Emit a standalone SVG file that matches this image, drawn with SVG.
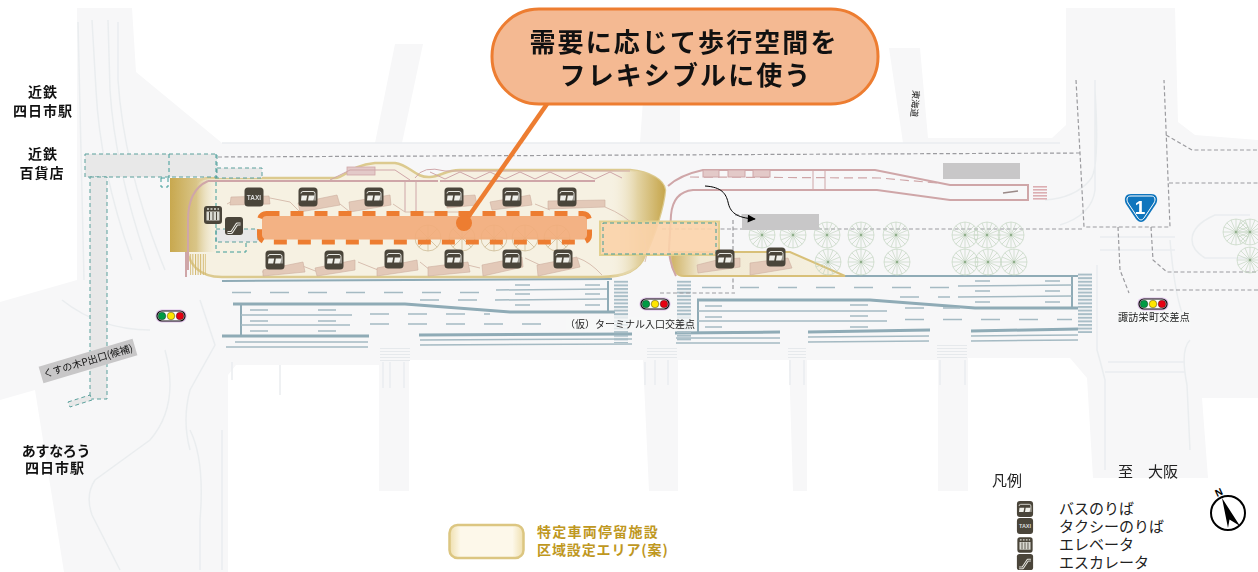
<svg xmlns="http://www.w3.org/2000/svg" xmlns:xlink="http://www.w3.org/1999/xlink" width="1258" height="572" viewBox="0 0 1258 572">
<style>
text{font-family:"Noto Sans CJK JP","Noto Sans",sans-serif;fill:#1a1a1a}
.bold{font-weight:700;fill:#111}
.road{fill:#f7f7f8}
.faint{fill:none;stroke:#eaedef;stroke-width:1.5}
.edge{fill:none;stroke:#8fabb6;stroke-width:2}
.thick{fill:none;stroke:#8fabb6;stroke-width:3}
.lane{fill:none;stroke:#a5bac3;stroke-width:1.5}
.dash{fill:none;stroke:#a5bac3;stroke-width:1.5;stroke-dasharray:19 19}
.gdash{fill:none;stroke:#9b9b9f;stroke-width:1.2;stroke-dasharray:4 2.5}
.teal{fill:#e8e8e8;stroke:#5aa09c;stroke-width:1;stroke-dasharray:4 3}
.tealo{fill:none;stroke:#3f9c98;stroke-width:1;stroke-dasharray:4 3}
.pink{fill:none;stroke:#cfa6a8;stroke-width:2}
.pink1{fill:none;stroke:#cfa6a8;stroke-width:1}
.shelter{fill:#e3c9b8;stroke:#cdaea0;stroke-width:.6}
.trail{fill:none;stroke:#d8bfb0;stroke-width:1}
.ic{fill:#4a453a}
.icl{fill:none;stroke:#e8e8e2;stroke-width:1}
.icf{fill:#f0f0ea}
.icon-t{font-family:"Liberation Sans",sans-serif;font-size:6.5px;font-weight:700;fill:#ddd;text-anchor:middle}
.lbl{font-size:14px;text-anchor:middle;font-weight:700;fill:#111;letter-spacing:1px}
.leg{font-size:15px;fill:#222}
.small{font-size:10px;fill:#222}
.gold{font-size:14px;font-weight:700;fill:#bf981f;letter-spacing:1.25px}
</style>
<defs>
<filter id="soft" x="-5%" y="-5%" width="110%" height="110%"><feGaussianBlur stdDeviation=".45"/></filter>
<filter id="soft2" x="-20%" y="-40%" width="140%" height="180%"><feGaussianBlur stdDeviation="1"/></filter>
<linearGradient id="gL" x1="0" x2="1" y1="0" y2="0"><stop offset="0" stop-color="#c8a84e"/><stop offset=".55" stop-color="#d9c588"/><stop offset="1" stop-color="#f3eddb" stop-opacity="0"/></linearGradient>
<linearGradient id="gR" x1="0" x2="1" y1="0" y2="0"><stop offset="0" stop-color="#f6f0df" stop-opacity="0"/><stop offset=".5" stop-color="#e3d3a3"/><stop offset="1" stop-color="#c6a64c"/></linearGradient>
<linearGradient id="gB" x1="0" x2="1" y1="0" y2="0"><stop offset="0" stop-color="#cfb264"/><stop offset=".17" stop-color="#f1e9d2"/><stop offset="1" stop-color="#f6f1e2"/></linearGradient>
<linearGradient id="gS" x1="0" x2="1" y1="0" y2="0"><stop offset="0" stop-color="#efdfae"/><stop offset=".15" stop-color="#fdf8ea"/><stop offset=".85" stop-color="#fdf8ea"/><stop offset="1" stop-color="#efdfae"/></linearGradient>
<pattern id="cross" width="8" height="3.6" patternUnits="userSpaceOnUse"><rect width="8" height="2" fill="#a9bec7"/></pattern>
<pattern id="crossF" width="8" height="3" patternUnits="userSpaceOnUse"><rect width="8" height="1" fill="#e6e9ec"/></pattern>
<pattern id="crossP" width="8" height="3" patternUnits="userSpaceOnUse"><rect width="8" height="1.6" fill="#dcaeb2"/></pattern>
<pattern id="crossV" width="2.6" height="8" patternUnits="userSpaceOnUse"><rect width="1" height="8" fill="#d2b66a"/></pattern>
<marker id="ah" viewBox="0 0 10 10" refX="9" refY="5" markerWidth="9" markerHeight="8" markerUnits="userSpaceOnUse" orient="auto"><path d="M0 0L10 5L0 10Z" fill="#000"/></marker>
<g id="tree" fill="none" stroke="#bcd0b8" stroke-width=".6">
<circle r="13"/><path d="M0-13V13M-13 0H13M-9.2-9.2L9.2 9.2M-9.2 9.2L9.2-9.2M-5-12L5 12M5-12L-5 12M-12-5L12 5M-12 5L12-5"/><circle r="1.2" fill="#8fae8a" stroke="none"/>
</g>
<g id="tree2" fill="none" stroke="#c8b48c" stroke-width=".7">
<circle r="13"/><path d="M0-13V13M-13 0H13M-9.2-9.2L9.2 9.2M-9.2 9.2L9.2-9.2"/>
</g>
<g id="bus"><rect x="-9.500" y="-9.500" width="19" height="19" rx="3.500" class="ic"/><path d="M-7-3.500Q-7-5.500-5-5.500H5Q7-5.500 7-3.500V3.500" class="icl"/><path d="M-6.500-1.500H-.8L-1.800 3.500H-7ZM.8-1.500H6.500L5.500 3.500H0Z" class="icf"/></g>
<g id="taxi"><rect x="-9.500" y="-9.500" width="19" height="19" rx="3.500" class="ic"/><text y="2.500" class="icon-t">TAXI</text></g>
<g id="elev"><rect x="-9" y="-9" width="18" height="18" rx="3" class="ic"/><rect x="-6.500" y="-3.500" width="13" height="9" fill="#d9d9d2"/><path d="M-3.500-3V5M0-3V5M3.500-3V5" stroke="#4a453a" stroke-width="1"/><path d="M-6-6H6" stroke="#d9d9d2" stroke-width="1.400" stroke-dasharray="2 1.500"/></g>
<g id="esc"><rect x="-9" y="-9" width="18" height="18" rx="3" class="ic"/><path d="M-6.500 6.500H-2.500L3-2H6.500" fill="none" stroke="#e8e8e2" stroke-width="3" stroke-linejoin="round"/><path d="M-6.500 6.500H-2.500L3-2H6.500" fill="none" stroke="#4a453a" stroke-width="1"/></g>
<g id="signal"><rect x="-15.500" y="-6.500" width="31" height="13" rx="6" fill="#e0c3ea"/><rect x="-14" y="-5" width="28" height="10" rx="5" fill="#fff" stroke="#111" stroke-width="1.200"/><circle cx="-9" r="3.800" fill="#009b44" stroke="#111" stroke-width=".4"/><circle r="3.800" fill="#ffe600" stroke="#111" stroke-width=".4"/><circle cx="9" r="3.800" fill="#e60012" stroke="#111" stroke-width=".4"/></g>
</defs>

<rect width="1258" height="572" fill="#fff"/>

<g id="base-map" filter="url(#soft)">
<path class="road" d="M77 8H132L136 72L222 143H375L395 44H423L402 143H640L643 100H680L680 143H903L889 48H920L928 138H1052L1066 125V8H1175L1178 122L1195 135L1258 140V398H1202L1208 478H1093L1087 378L1070 358H968L968 491H938V360H807L807 491H793L789 360H678L678 491H649L643 360H409V491H379V365H236L228 375V572H64L35 390L0 400V302L77 280Z"/>
<path class="faint" d="M92 20L96 90Q100 170 132 260M108 20L110 90Q115 170 150 270M118 22L118 80Q124 170 165 270M78 22L84 280"/>
<path class="faint" d="M200 300L215 345L190 390Q182 420 190 450M165 350Q180 405 150 440L95 480Q85 495 92 515L120 570M222 430V570M190 430Q205 460 200 520V570M62 300Q100 330 150 330"/>
<path class="faint" d="M1095 80V190Q1092 215 1060 225M1095 90Q1100 170 1090 180Q1075 198 1045 200M1170 240Q1175 300 1185 320M1097 265V350Q1100 360 1105 380V470M1190 340Q1180 350 1187 385L1190 450"/>
<path class="faint" d="M1100 237H1175M1100 250H1175M1108 362H1185M1105 372H1185M1250 215H1215Q1192 225 1192 240Q1192 250 1205 258H1250"/>
<path class="faint" d="M222 143H1060M232 362V380M280 365V395"/>
<rect x="380" y="348" width="30" height="14" fill="url(#crossF)"/>
<rect x="647" y="346" width="30" height="14" fill="url(#crossF)"/>
<rect x="788" y="346" width="18" height="14" fill="url(#crossF)"/>
<rect x="937" y="344" width="30" height="14" fill="url(#crossF)"/>
<path class="faint" d="M383 362V388M390 362V388M404 362V388M645 362V385M655 360V385M668 360V385M790 360V385M804 360V385M940 360V385M965 360V385"/>
</g>

<g id="road-lines" filter="url(#soft)">
<path class="edge" d="M222 281Q600 279 612 279M845 276H1078"/>
<path class="thick" d="M233 304H405L510 312H615M697 300H870L975 308H1078"/>
<path class="edge" d="M241 304V336M608 281V312M698 300V333M1072 276V307"/>
<path class="thick" d="M222 336H369M419 335L632 334M675 333L780 332M808 332L930 330M971 331L1078 329"/>
<path class="lane" d="M235 342H368M226 347H368M420 340L632 339M420 345L632 344M676 338L780 338M676 343L780 343M808 337L929 336M808 342L929 341M971 336L1078 335M971 341L1078 340"/>
<path class="lane" d="M241 315H352M241 325H350M698 311H887M698 321H887M496 290L607 289M495 300L607 299M958 286L1072 285M958 297L1072 296"/>
<path class="dash" d="M232 292.500H480M702 287.500H950M370 314H490M370 324H560M905 319.500H1072M905 308H960M420 300H480M900 297H950"/>
<path class="lane" d="M250 310H268M318 310H336M250 321H268M318 321H336M250 331H268M318 331H336M515 285H530M585 285H600M515 294H530M585 294H600M515 305H530M585 305H600M705 306H722M850 305H868M705 317H722M850 316H868M705 327H722M850 327H868M975 281H990M1045 281H1060M975 291H990M1045 291H1060M975 302H990M1045 302H1060"/>
<rect x="614" y="280" width="14" height="63" fill="url(#cross)"/>
<rect x="677" y="280" width="14" height="62" fill="url(#cross)"/>
<rect x="1078" y="273" width="14" height="60" fill="url(#cross)"/>
</g>

<g id="dashed-boundaries">
<path class="gdash" d="M218 157L1080 153"/>
<path class="gdash" d="M662 229H1083M733 220V290M660 293H735M735 215H815"/>
<path class="gdash" d="M1076 80L1084 227L1170 227L1164 80M1118 227L1120 270L1129 293M1151 227L1153 260L1167 272H1258M1169 183H1258M1166 135L1192 150H1258M1150 290H1258"/>
</g>

<g id="terminal-area" filter="url(#soft)">
<path d="M208 178H335C345 178 350 165 375 163H395C410 165 415 178 430 177C440 177 445 170 460 170L630 170C650 172 664 180 665 190C664 205 655 235 645 255C640 270 625 277 600 277H222C200 277 186 265 186 240V215C186 195 195 178 208 178Z" fill="#f6f1e2" stroke="#dcca8f" stroke-width="2.500"/>
<rect x="170" y="178" width="48" height="74" fill="url(#gL)"/>
<rect x="190" y="254" width="16" height="21" fill="url(#crossV)"/>
<path d="M186 252V277" stroke="#cfa6a8" stroke-width="2"/>
<path d="M610 170H630C650 172 664 180 665 190C664 205 655 235 645 255C640 270 625 277 610 277Z" fill="url(#gR)"/>
<path d="M208 181H438M440 181H595" class="pink"/>
<path d="M208 181Q188 190 188 220V270" class="pink"/>
<path d="M415 178Q423 165 445 171L630 171" class="pink1"/>
<rect x="347" y="167" width="28" height="8" fill="#e3c9c8" stroke="#cfa6a8" stroke-width=".8"/>
<path d="M330 180L350 170H395L410 180" class="pink1"/>
<path d="M430 172L445 179L460 172L475 179L490 172L505 179L520 172L535 179L550 172L565 179L580 172L595 179L610 172L622 178" class="pink1"/>
<path d="M405 181V212M416 181V212" class="pink1"/>
<path d="M227 204L238 198H270L290 202L302 214M340 204L350 212M393 204L405 212H460M535 204L550 210M605 207Q625 215 640 230Q650 250 645 262M262 272L300 265L318 272M358 262L378 270M420 262L430 270M455 262L480 268M525 258L540 265M578 258Q590 262 602 275" class="trail"/>
<g class="shelter">
<polygon points="231,197 269,196 270,204 230,205"/>
<polygon points="298,203 337,195 340,205 300,212"/>
<polygon points="349,202 390,195 391,205 350,212"/>
<polygon points="447,197 475,195 477,205 447,208"/>
<polygon points="490,202 530,195 532,205 492,210"/>
<polygon points="548,201 605,200 605,207 548,209"/>
<polygon points="263,270 303,262 305,272 263,276"/>
<polygon points="315,268 355,260 355,270 317,276"/>
<polygon points="377,268 417,260 418,270 377,276"/>
<polygon points="428,267 468,262 470,272 428,276"/>
<polygon points="482,265 522,257 523,267 483,276"/>
<polygon points="537,265 577,257 580,267 538,276"/>
</g>
<use xlink:href="#tree2" href="#tree2" x="428" y="238"/><use xlink:href="#tree2" href="#tree2" x="462" y="238"/><use xlink:href="#tree2" href="#tree2" x="494" y="238"/><use xlink:href="#tree2" href="#tree2" x="525" y="238"/><use xlink:href="#tree2" href="#tree2" x="557" y="238"/>
<path d="M672 252H790L845 276H684Q672 276 671 258Z" fill="url(#gB)" stroke="#d8c079" stroke-width="2"/>
<g class="shelter">
<polygon points="697,265 717,260 740,258 740,267 698,273"/>
<polygon points="750,263 788,258 792,268 750,275"/>
</g>
</g>

<g id="bus-lane" filter="url(#soft)">
<path class="pink" d="M668 186Q680 175 703 170H875L950 185H1028V200H950L877 190H693Q673 192 671 215L669 250Q670 265 676 276"/>
<path class="pink1" d="M813 169V190M825 169V190"/>
<path d="M690 177L880 178L937 183" fill="none" stroke="#cfa6a8" stroke-width="1.200" stroke-dasharray="9 5"/>
<rect x="1033" y="185" width="14" height="15" fill="url(#crossP)"/>
<path d="M1003 193L1018 191" stroke="#9a8a88" stroke-width="1.500"/>
<g fill="#e3c9c8" stroke="#cfa6a8"><rect x="703" y="170" width="16" height="7"/><rect x="728" y="170" width="17" height="7"/><rect x="753" y="170" width="17" height="7"/></g>
</g>

<g id="trees">
<use xlink:href="#tree" href="#tree" x="762" y="235"/><use xlink:href="#tree" href="#tree" x="793" y="235"/><use xlink:href="#tree" href="#tree" x="827" y="235"/><use xlink:href="#tree" href="#tree" x="861" y="235"/><use xlink:href="#tree" href="#tree" x="896" y="235"/><use xlink:href="#tree" href="#tree" x="965" y="235"/><use xlink:href="#tree" href="#tree" x="987" y="235"/><use xlink:href="#tree" href="#tree" x="1011" y="235"/>
<use xlink:href="#tree" href="#tree" x="828" y="262"/><use xlink:href="#tree" href="#tree" x="861" y="262"/><use xlink:href="#tree" href="#tree" x="897" y="262"/><use xlink:href="#tree" href="#tree" x="965" y="262"/><use xlink:href="#tree" href="#tree" x="988" y="262"/><use xlink:href="#tree" href="#tree" x="1014" y="262"/>
<use xlink:href="#tree" href="#tree" x="1236" y="232"/><use xlink:href="#tree" href="#tree" x="1250" y="232"/><use xlink:href="#tree" href="#tree" x="1250" y="260"/>
</g>

<g id="gray-bars">
<rect x="943" y="163" width="77" height="16" fill="#c8c7c8"/>
<rect x="742" y="214" width="77" height="16" fill="#c8c7c8"/>
</g>

<g id="underground-passage">
<rect x="85" y="154" width="132" height="23" class="teal"/>
<path d="M169 154V178" class="tealo"/>
<rect x="90" y="177" width="17" height="222" class="teal"/>
<path d="M68 402L90 395L92 400L70 407Z" class="teal"/>
<rect x="161" y="178" width="7" height="9" class="tealo"/>
<rect x="217" y="168" width="45" height="10" class="teal"/>
<rect x="216" y="229" width="42" height="13" class="teal"/>
<path d="M216 154V252H246V243" class="tealo"/>
</g>

<g id="flex-zone">
<rect x="600" y="221.500" width="119" height="33.500" fill="#fbd3aa" fill-opacity=".9" stroke="#e2d08f" stroke-width="2"/>
<rect x="603" y="223" width="113" height="31" class="tealo"/>
<rect x="262" y="216" width="325" height="23.500" fill="#f2ac7c" fill-opacity=".92"/>
<rect x="259.500" y="213.500" width="330" height="28.500" rx="7" fill="none" stroke="#ed7d31" stroke-width="5" stroke-dasharray="13 11"/>
</g>

<g id="connectors">
<path d="M547 104L464 223" fill="none" stroke="#ed7d31" stroke-width="4.500"/>
<circle cx="464" cy="223" r="8" fill="#ed7d31"/>
<path d="M705 186C722 187 726 194 728 202C730 212 736 218 755 219" fill="none" stroke="#000" stroke-width="1" marker-end="url(#ah)"/>
</g>

<g id="icons">
<use xlink:href="#taxi" href="#taxi" x="254" y="197"/>
<use xlink:href="#bus" href="#bus" x="308" y="197"/><use xlink:href="#bus" href="#bus" x="374" y="197"/><use xlink:href="#bus" href="#bus" x="454" y="197"/><use xlink:href="#bus" href="#bus" x="512" y="197"/><use xlink:href="#bus" href="#bus" x="567" y="197"/>
<use xlink:href="#bus" href="#bus" x="275" y="260"/><use xlink:href="#bus" href="#bus" x="334" y="260"/><use xlink:href="#bus" href="#bus" x="394" y="259"/><use xlink:href="#bus" href="#bus" x="454" y="259"/><use xlink:href="#bus" href="#bus" x="512" y="259"/><use xlink:href="#bus" href="#bus" x="563" y="259"/>
<use xlink:href="#bus" href="#bus" x="725" y="259"/><use xlink:href="#bus" href="#bus" x="776" y="257"/>
<use xlink:href="#elev" href="#elev" x="213" y="215"/><use xlink:href="#esc" href="#esc" x="234" y="226"/>
</g>

<g id="signal-west"><use xlink:href="#signal" href="#signal" x="171" y="316"/></g>
<g id="signal-terminal"><use xlink:href="#signal" href="#signal" x="655" y="304"/></g>
<g id="signal-suwa"><use xlink:href="#signal" href="#signal" x="1153" y="304"/></g>

<g id="route-1">
<path d="M1131 194H1151C1157 194 1158.500 199 1156 204L1146 219C1143 223 1139 223 1136 219L1126 204C1123.500 199 1125 194 1131 194Z" fill="#0f75bd"/>
<path d="M1131 196H1151C1155 196 1156 199 1154 203L1144 218C1142 220.500 1140 220.500 1138 218L1128 203C1126 199 1127 196 1131 196Z" fill="none" stroke="#fff" stroke-width="1"/>
<text x="1140" y="214" style="font-family:'Liberation Sans',sans-serif;font-size:19px;font-weight:700;fill:#fff" text-anchor="middle">1</text>
</g>

<g id="callout">
<rect x="492" y="9" width="386" height="95" rx="47" fill="#f4b992" stroke="#ed7d31" stroke-width="3"/>
<text class="bold" style="font-size:26px;letter-spacing:2.100px" text-anchor="middle"><tspan x="684" y="52">需要に応じて歩行空間を</tspan><tspan x="686" y="85">フレキシブルに使う</tspan></text>
</g>

<g id="labels">
<text class="lbl"><tspan x="43" y="97">近鉄</tspan><tspan x="43" y="116">四日市駅</tspan></text>
<text class="lbl"><tspan x="43" y="159">近鉄</tspan><tspan x="42" y="178">百貨店</tspan></text>
<text class="lbl"><tspan x="56" y="456" style="letter-spacing:-.3px">あすなろう</tspan><tspan x="55" y="473">四日市駅</tspan></text>
<g transform="translate(88 361) rotate(-16.600)"><rect x="-49" y="-8.500" width="98" height="17" fill="#c8c7c8"/><text y="3.500" text-anchor="middle" style="font-size:10px;fill:#111">くすの木P出口(候補)</text></g>
<rect x="566" y="317" width="130" height="14" fill="#f7f8f8" fill-opacity=".75"/>
<text x="565" y="328" class="small">（仮）ターミナル入口交差点</text>
<rect x="1117" y="312" width="74" height="13" fill="#f7f8f8"/>
<text x="1118" y="321" class="small" style="letter-spacing:.3px">諏訪栄町交差点</text>
<text transform="translate(913 90) rotate(95)" style="font-size:9px;fill:#222">東海道</text>
<text x="1118" y="477" class="leg">至　大阪</text>
</g>

<g id="legend">
<text x="992" y="486" class="leg">凡例</text>
<use xlink:href="#bus" href="#bus" transform="translate(1025 509) scale(.85)"/>
<use xlink:href="#taxi" href="#taxi" transform="translate(1025 526) scale(.85)"/>
<use xlink:href="#elev" href="#elev" transform="translate(1025 545) scale(.85)"/>
<use xlink:href="#esc" href="#esc" transform="translate(1025 562) scale(.9)"/>
<text class="leg"><tspan x="1059" y="514">バスのりば</tspan><tspan x="1059" y="532">タクシーのりば</tspan><tspan x="1059" y="550">エレベータ</tspan><tspan x="1059" y="568">エスカレータ</tspan></text>
</g>

<g id="legend-area">
<rect x="449.500" y="525" width="74" height="33" rx="8" fill="url(#gS)" stroke="#dcc681" stroke-width="2.500" filter="url(#soft)"/>
<text class="gold"><tspan x="537" y="537">特定車両停留施設</tspan><tspan x="537" y="555" style="letter-spacing:.9px">区域設定エリア(案)</tspan></text>
</g>

<g id="north">
<circle cx="1228" cy="513" r="17" fill="#fff" stroke="#000" stroke-width="2"/>
<path d="M1222 498L1240 526L1229.500 519.500L1228 528Z" fill="#000"/>
<text transform="translate(1217 497) rotate(-25)" style="font-family:'Liberation Sans',sans-serif;font-size:10px;font-weight:700;fill:#000">N</text>
</g>
</svg>
